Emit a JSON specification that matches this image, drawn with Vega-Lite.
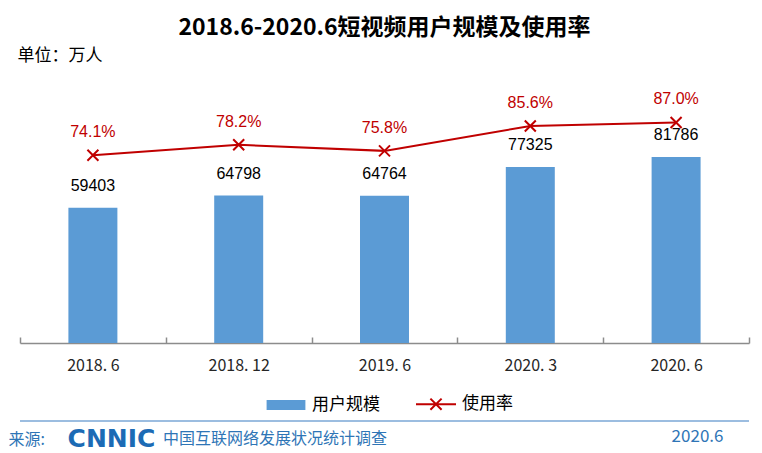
{
  "$schema": "https://vega.github.io/schema/vega-lite/v6.json",
  "autosize": "none",
  "width": 729,
  "height": 256,
  "padding": {"left": 20, "top": 87, "right": 13, "bottom": 110},
  "background": "white",
  "config": {"view": {"stroke": null}, "font": "Noto Sans CJK SC"},
  "title": {
    "text": "2018.6-2020.6短视频用户规模及使用率",
    "font": "Noto Sans CJK SC",
    "fontSize": 23,
    "fontWeight": "bold",
    "color": "#000000",
    "anchor": "middle",
    "frame": "group",
    "offset": 6
  },
  "data": {
    "values": [
      {"period": "2018.6", "users": 59403, "rate": 0.741},
      {"period": "2018.12", "users": 64798, "rate": 0.782},
      {"period": "2019.6", "users": 64764, "rate": 0.758},
      {"period": "2020.3", "users": 77325, "rate": 0.856},
      {"period": "2020.6", "users": 81786, "rate": 0.870}
    ]
  },
  "layer": [
    {
      "layer": [
        {
          "mark": {"type": "bar", "color": "#5B9BD5", "width": {"band": 0.336}},
          "encoding": {
            "x": {
              "field": "period",
              "type": "nominal",
              "sort": null,
              "scale": {"paddingInner": 0, "paddingOuter": 0},
              "axis": {
                "title": "来源:",
                "titleX": -12,
                "titleY": 101,
                "titleAlign": "left",
                "titleAnchor": null,
                "titleBaseline": "alphabetic",
                "titleFont": "Noto Sans CJK SC",
                "titleFontSize": 16,
                "titleFontWeight": "normal",
                "titleColor": "#2E75B6",
                "labelAngle": 0,
                "labelExpr": "replace(datum.label, '.', '. ')",
                "labelFont": "Noto Sans CJK SC",
                "labelFontSize": 16,
                "labelColor": "#262626",
                "labelPadding": 20,
                "domainColor": "#8C8C8C",
                "domainWidth": 1.5,
                "tickColor": "#8C8C8C",
                "tickWidth": 1.5,
                "tickSize": -6,
                "tickBand": "extent",
                "grid": false
              }
            },
            "y": {
              "field": "users",
              "type": "quantitative",
              "scale": {"domain": [0, 112530], "nice": false, "zero": true},
              "axis": {
                "orient": "left",
                "title": "单位：万人",
                "domain": false,
                "labels": false,
                "ticks": false,
                "grid": false,
                "titleAngle": 0,
                "titleAlign": "left",
                "titleAnchor": null,
                "titleBaseline": "alphabetic",
                "titleX": -3,
                "titleY": -27,
                "titleFont": "Noto Sans CJK SC",
                "titleFontSize": 17,
                "titleFontWeight": "normal",
                "titleColor": "#000000"
              }
            },
            "color": {
              "datum": "用户规模",
              "type": "nominal",
              "scale": {"domain": ["用户规模", "使用率"], "range": ["#5B9BD5", "#C00000"]},
              "legend": {
                "orient": "none",
                "legendX": 245,
                "legendY": 296,
                "direction": "horizontal",
                "title": null,
                "padding": 0,
                "labelFont": "Noto Sans CJK SC",
                "labelFontSize": 17,
                "labelColor": "#000000",
                "labelOffset": 5,
                "columnPadding": 32,
                "symbolSize": 1600,
                "symbolStrokeWidth": 2,
                "encode": {
                  "symbols": {
                    "update": {
                      "shape": {"signal": "datum.value === '用户规模' ? 'M-0.92,-0.2H0.92V0.2H-0.92Z' : 'M-1,0H1M-0.28,-0.28L0.28,0.28M-0.28,0.28L0.28,-0.28'"},
                      "fill": {"signal": "datum.value === '用户规模' ? '#5B9BD5' : 'transparent'"},
                      "stroke": {"signal": "datum.value === '用户规模' ? 'transparent' : '#C00000'"},
                      "strokeWidth": {"value": 2},
                      "size": {"value": 1600},
                      "opacity": {"value": 1},
                      "fillOpacity": {"value": 1},
                      "strokeOpacity": {"value": 1}
                    }
                  }
                }
              }
            }
          }
        },
        {
          "mark": {"type": "text", "dy": -17, "baseline": "alphabetic", "font": "Liberation Sans", "fontSize": 16, "color": "#000000"},
          "encoding": {
            "x": {"field": "period", "type": "nominal", "sort": null},
            "y": {"field": "users", "type": "quantitative"},
            "text": {"field": "users", "type": "quantitative", "format": "d"}
          }
        }
      ]
    },
    {
      "layer": [
        {
          "mark": {"type": "line", "color": "#C00000", "strokeWidth": 2},
          "encoding": {
            "x": {"field": "period", "type": "nominal", "sort": null},
            "y": {
              "field": "rate",
              "type": "quantitative",
              "scale": {"domain": [0, 1.01], "nice": false, "zero": true},
              "axis": {
                "orient": "right",
                "title": "2020.6",
                "domain": false,
                "labels": false,
                "ticks": false,
                "grid": false,
                "titleAngle": 0,
                "titleAlign": "right",
                "titleAnchor": null,
                "titleBaseline": "alphabetic",
                "titleX": -26,
                "titleY": 354,
                "titleFont": "Noto Sans CJK SC",
                "titleFontSize": 17,
                "titleFontWeight": "normal",
                "titleColor": "#2E75B6"
              }
            },
            "color": {"datum": "使用率", "type": "nominal"}
          }
        },
        {
          "mark": {"type": "point", "shape": "M-1,-1L1,1M-1,1L1,-1", "filled": false, "size": 121, "strokeWidth": 2, "color": "#C00000", "opacity": 1},
          "encoding": {
            "x": {"field": "period", "type": "nominal", "sort": null},
            "y": {"field": "rate", "type": "quantitative"}
          }
        },
        {
          "mark": {"type": "text", "dy": -18, "baseline": "alphabetic", "font": "Liberation Sans", "fontSize": 16, "color": "#C00000"},
          "encoding": {
            "x": {"field": "period", "type": "nominal", "sort": null},
            "y": {"field": "rate", "type": "quantitative"},
            "text": {"field": "rate", "type": "quantitative", "format": ".1%"}
          }
        },
        {
          "data": {"values": [{"line": "footer"}]},
          "mark": {"type": "rule", "color": "#7BA7D6", "strokeWidth": 1.5},
          "encoding": {
            "y": {"datum": -0.3077, "type": "quantitative"}
          }
        },
        {
          "data": {"values": [{"logo": "CNNIC"}]},
          "mark": {"type": "text", "font": "DejaVu Sans", "fontWeight": "bold", "fontSize": 25, "color": "#1C6BB5", "align": "center", "baseline": "alphabetic", "dx": 18.6},
          "encoding": {
            "text": {"field": "logo", "type": "nominal"},
            "x": {"datum": "2018.6", "type": "nominal"},
            "y": {"datum": -0.4103, "type": "quantitative"}
          }
        },
        {
          "data": {"values": [{"org": "中国互联网络发展状况统计调查"}]},
          "mark": {"type": "text", "font": "Noto Sans CJK SC", "fontSize": 16, "color": "#2E75B6", "align": "left", "baseline": "alphabetic", "dx": 70},
          "encoding": {
            "text": {"field": "org", "type": "nominal"},
            "x": {"datum": "2018.6", "type": "nominal"},
            "y": {"datum": -0.3984, "type": "quantitative"}
          }
        }
      ]
    }
  ],
  "resolve": {"scale": {"y": "independent"}}
}
